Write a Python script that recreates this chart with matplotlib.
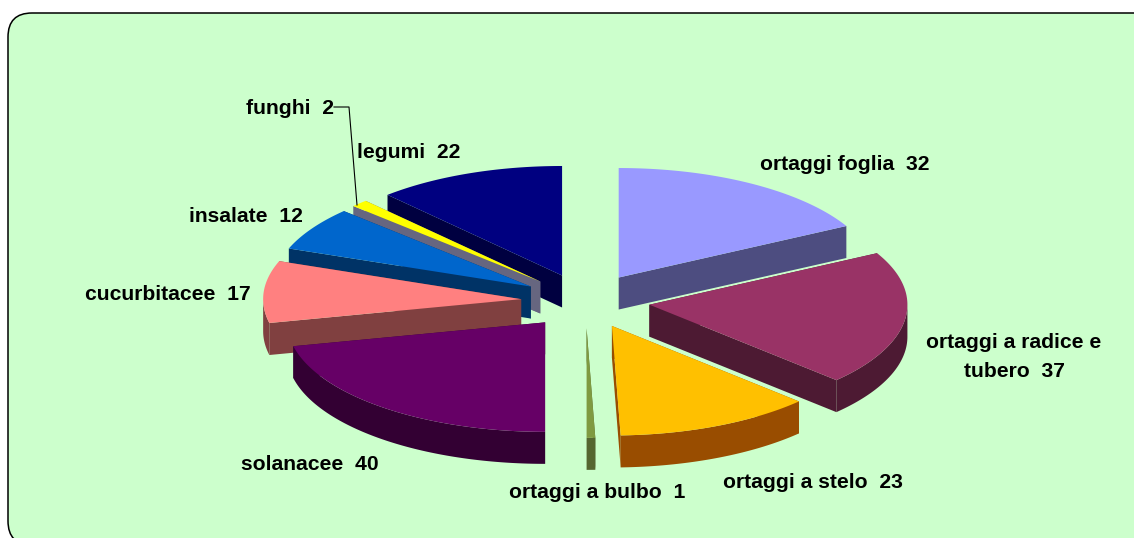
import numpy as np
import matplotlib
matplotlib.use("Agg")
import matplotlib.pyplot as plt
from matplotlib.patches import FancyBboxPatch, Polygon

plt.rcParams['font.family'] = ['Liberation Sans', 'DejaVu Sans']

categories = ['ortaggi foglia', 'ortaggi a radice e\ntubero', 'ortaggi a stelo', 'ortaggi a bulbo',
              'solanacee', 'cucurbitacee', 'insalate', 'funghi', 'legumi']
values = [32, 37, 23, 1, 40, 17, 12, 2, 22]
top_colors = ['#9999FF', '#993366', '#FFC000', '#7F9A41', '#660066', '#FF8080', '#0066CC', '#FFFF00', '#000080']
side_colors = ['#4D4D80', '#4D1A33', '#994D00', '#556630', '#330033', '#804040', '#003366', '#666680', '#000040']
label_pos = [(845, 164, 'center'), (1014, 357, 'center'), (813, 483, 'center'), (597, 493, 'center'),
             (310, 464, 'center'), (168, 295, 'center'), (246, 217, 'center'), (290, 108, 'center'), (409, 153, 'center')]

CX, CY, RX, RY, DEPTH, EXPLODE = 585.5, 301, 258, 109.5, 32, 0.25

fig = plt.figure(figsize=(11.34, 5.38), dpi=100, facecolor='white')
ax = fig.add_axes([0, 0, 1, 1])
ax.set_xlim(0, 1134)
ax.set_ylim(538, 0)
ax.axis('off')

ax.add_patch(FancyBboxPatch((8, 13), 1180, 532, boxstyle='round,pad=0,rounding_size=24',
                            facecolor='#CCFFCC', edgecolor='black', linewidth=1.1, zorder=0))


def pt(a, ox, oy, r=1.0, dz=0.0):
    return (ox + r * RX * np.sin(a), oy - r * RY * np.cos(a) + dz)


def extrude(points):
    return list(points) + [(x, y + DEPTH) for x, y in reversed(points)]


total = sum(values)
edges = np.concatenate([[0], np.cumsum(values)]) / total * 2 * np.pi
mids = (edges[:-1] + edges[1:]) / 2
order = np.argsort(-np.cos(mids))

for z, i in enumerate(order):
    a1, a2, m = edges[i], edges[i + 1], mids[i]
    ox, oy = pt(m, CX, CY, EXPLODE)
    base = 10 + z * 5
    apex = (ox, oy)
    for a in (a1, a2):
        ax.add_patch(Polygon(extrude([apex, pt(a, ox, oy)]), closed=True, facecolor=side_colors[i],
                             edgecolor='none', zorder=base))
    lo, hi = max(a1, np.pi / 2), min(a2, 3 * np.pi / 2)
    if hi > lo:
        rim = [pt(a, ox, oy) for a in np.linspace(lo, hi, 80)]
        ax.add_patch(Polygon(extrude(rim), closed=True, facecolor=side_colors[i],
                             edgecolor='none', zorder=base + 1))
    top = [apex] + [pt(a, ox, oy) for a in np.linspace(a1, a2, 120)]
    ax.add_patch(Polygon(top, closed=True, facecolor=top_colors[i], edgecolor='none', zorder=base + 2))

for cat, val, (x, y, ha) in zip(categories, values, label_pos):
    ax.text(x, y, f'{cat}  {val}', ha=ha, va='center', fontsize=15.25, fontweight='bold',
            color='black', linespacing=1.62, zorder=100)

ax.plot([334, 349, 357], [107, 107, 205], color='black', lw=0.8, zorder=99)

fig.savefig('out.png', dpi=100, facecolor='white')
